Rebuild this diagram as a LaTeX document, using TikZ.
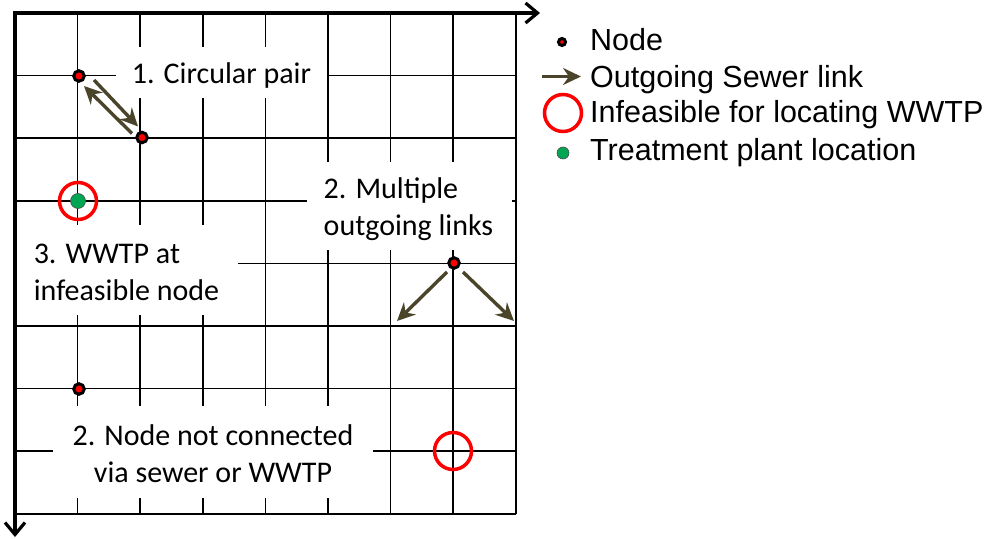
\documentclass[tikz,border=0pt]{standalone}
\usepackage{fontspec}
\setmainfont{Carlito}
\newfontfamily\legfont{Liberation Sans}
\usetikzlibrary{arrows.meta,calc}
\definecolor{sewer}{RGB}{74,69,42}
\definecolor{plant}{RGB}{0,166,81}
\begin{document}
\begin{tikzpicture}[x=1bp,y=-1bp,
  gridline/.style={line width=1.5bp, black},
  axis/.style={line width=3.2bp, black},
  lblbox/.style={fill=white, draw=none, inner sep=0pt},
  lbltext/.style={inner sep=0pt, font=\fontsize{30bp}{37bp}\selectfont},
  netnode/.style={circle, fill=red, draw=black, line width=3bp, inner sep=0pt, minimum size=10.5bp},
  infeas/.style={circle, draw=red, line width=3.5bp, inner sep=0pt, minimum size=37bp},
  plantnode/.style={circle, fill=plant, draw=black!70, line width=0.6bp, inner sep=0pt, minimum size=15bp},
  sewerlink/.style={draw=sewer, line width=3.4bp, -{Stealth[length=18bp,width=17bp,inset=6bp]}},
  legtext/.style={anchor=west, inner sep=0pt, text height=21.5bp, text depth=0pt, font=\legfont\fontsize{30.5bp}{36bp}\selectfont}
]
\useasboundingbox (0,0) rectangle (997,539);
% grid
\foreach \i in {1,...,8} {
  \draw[gridline] ({15+62.6*\i},13) -- ({15+62.6*\i},514);
  \draw[gridline] (15,{13+62.6*\i}) -- (516,{13+62.6*\i});
}
% label backgrounds
\node[lblbox, minimum width=211bp, minimum height=51bp] (box1) at (221.5,72.5) {};
\node[lblbox, minimum width=223bp, minimum height=90bp] (box3) at (126.5,270) {};
\node[lblbox, minimum width=205bp, minimum height=88bp] (box2a) at (409.5,206) {};
\node[lblbox, minimum width=320bp, minimum height=92bp] (box2b) at (213,452) {};
% label texts
\node[lbltext, anchor=base] (lab1) at (221.5,83.5) {1. Circular pair};
\node[lbltext, align=left] (lab3) at (126.5,272) {3. WWTP at\\infeasible node};
\node[lbltext, align=left] (lab2a) at (408.5,209.5) {2. Multiple\\outgoing links};
\node[lbltext, align=center] (lab2b) at (213,454) {2. Node not connected\\via sewer or WWTP};
% axes
\coordinate (O) at (15,13);
\coordinate (xend) at (540,13);
\coordinate (yend) at (15,537);
\draw[axis, line join=miter, {Straight Barb[length=12bp,width=20bp]}-{Straight Barb[length=12bp,width=20bp]}] (xend) -- (O) -- (yend);
% nodes
\node[netnode] (n1) at (79,76) {};
\node[netnode] (n2) at (142,137.5) {};
\node[infeas] (c1) at (78,201) {};
\node[plantnode] (p1) at (78,201) {};
\node[netnode] (n3) at (454,263) {};
\node[netnode] (n4) at (79,389) {};
\node[infeas] (c2) at (453,451) {};
% sewer links
\draw[sewerlink] ([shift={(15,4)}]n1.center) -- ([shift={(-4,-11)}]n2.center);
\draw[sewerlink] ([shift={(-10,-4)}]n2.center) -- ([shift={(5,10)}]n1.center);
\coordinate (t1) at (397,321);
\coordinate (t2) at (514,321);
\draw[sewerlink] ([shift={(-7,9)}]n3.center) -- (t1);
\draw[sewerlink] ([shift={(9,9)}]n3.center) -- (t2);
% legend
\node[netnode, minimum size=7bp] (lgnode) at (562,42) {};
\coordinate (la1) at (542,76.5);
\coordinate (la2) at (581,76.5);
\draw[sewerlink] (la1) -- (la2);
\node[infeas] (lgcirc) at (563,113) {};
\node[plantnode, minimum size=12bp] (lgplant) at (563,153) {};
\node[legtext] (lt1) at (590,39.5) {Node};
\node[legtext] (lt2) at (590,76.5) {Outgoing Sewer link};
\node[legtext] (lt3) at (590,112) {Infeasible for locating WWTP};
\node[legtext] (lt4) at (590,150) {Treatment plant location};
\end{tikzpicture}
\end{document}
